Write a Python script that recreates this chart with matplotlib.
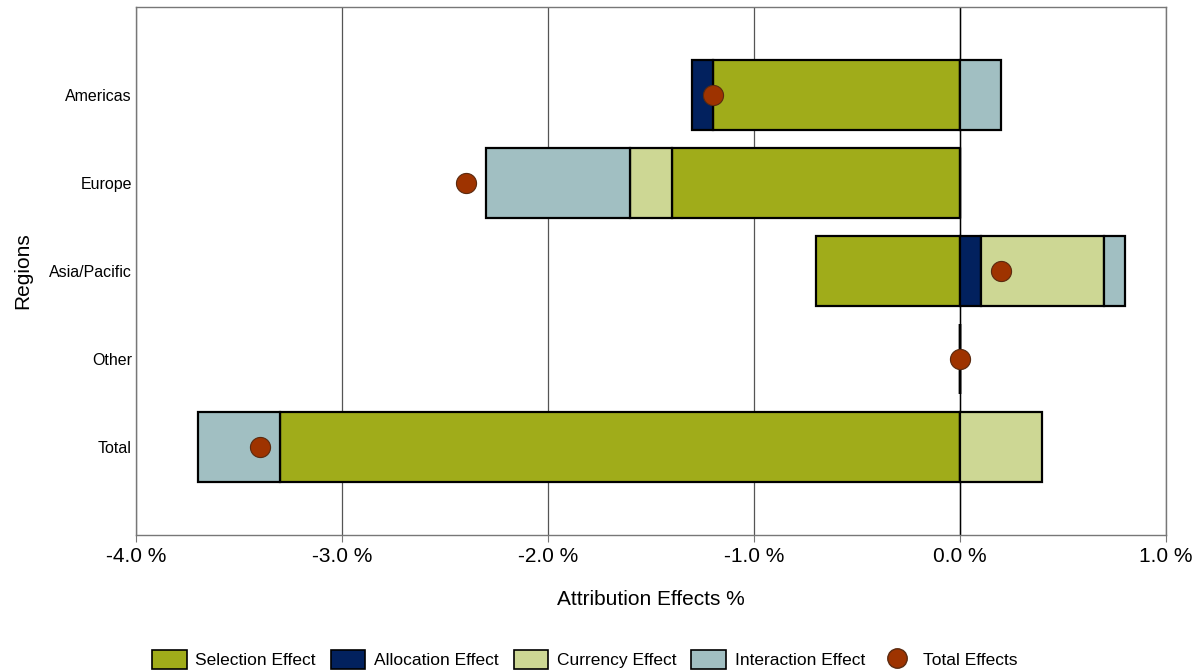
"""
Attribution effects by region - stacked horizontal bars
"""
import numpy as np
import matplotlib
matplotlib.use("Agg")
import matplotlib.pyplot as plt
from matplotlib.patches import Patch
from matplotlib.lines import Line2D

plt.rcParams['font.family'] = ['Liberation Sans', 'DejaVu Sans']

regions = ["Total", "Other", "Asia/Pacific", "Europe", "Americas"]
selection = [-3.3, 0.0, -0.7, -1.4, -1.2]
allocation = [0.0, 0.0, 0.1, 0.0, -0.1]
currency = [0.4, 0.0, 0.6, -0.2, 0.0]
interaction = [-0.4, 0.0, 0.1, -0.7, 0.2]
total = [-3.4, 0.0, 0.2, -2.4, -1.2]

series = [
    ("Selection Effect", selection, "#A0AC1A"),
    ("Allocation Effect", allocation, "#02215E"),
    ("Currency Effect", currency, "#CDD794"),
    ("Interaction Effect", interaction, "#A1BFC2"),
]
dot_color = "#9E3300"

fig = plt.figure(figsize=(11.97, 6.70), dpi=100)
ax = fig.add_axes([0.1136, 0.2015, 0.8605, 0.7881])

y = np.arange(len(regions))
pos_base = np.zeros(len(regions))
neg_base = np.zeros(len(regions))
for name, vals, color in series:
    vals = np.array(vals)
    left = np.where(vals >= 0, pos_base, neg_base)
    ax.barh(y, vals, left=left, height=0.8, color=color,
            edgecolor="black", linewidth=1.6, zorder=3)
    pos_base += np.where(vals >= 0, vals, 0)
    neg_base += np.where(vals < 0, vals, 0)

ax.scatter(total, y, s=210, color=dot_color, edgecolor="#5a2a10",
           linewidth=0.8, zorder=5)

ax.axvline(0, color="black", linewidth=1.0, zorder=2)
ax.set_xlim(-4, 1)
ax.set_ylim(-1, 5)
ax.set_xticks(np.arange(-4, 1.01, 1))
ax.set_xticklabels([f"{v:.1f} %" for v in np.arange(-4, 1.01, 1)], fontsize=15)
ax.set_yticks(y)
ax.set_yticklabels(regions, fontsize=11.5)
ax.xaxis.grid(True, color="#555555", linewidth=0.9, zorder=0)
ax.tick_params(axis="x", length=5, color="#777777", pad=4)
ax.tick_params(axis="y", length=0, pad=3)
for s in ax.spines.values():
    s.set_color("#777777")
    s.set_linewidth(1.0)

ax.set_xlabel("Attribution Effects %", fontsize=15, labelpad=17)
ax.set_ylabel("Regions", fontsize=15, labelpad=12)

handles = [Patch(facecolor=c, edgecolor="black", linewidth=1.2, label=n)
           for n, _, c in series]
handles.append(Line2D([], [], marker="o", linestyle="none", markersize=14,
                      markerfacecolor=dot_color, markeredgecolor="#5a2a10",
                      label="Total Effects"))
fig.legend(handles=handles, loc="lower left", bbox_to_anchor=(0.114, -0.022),
           ncol=5, frameon=False, fontsize=12.5, handlelength=2.0,
           handleheight=1.3, handletextpad=0.5, columnspacing=0.85)

fig.savefig("out.png", dpi=100)
